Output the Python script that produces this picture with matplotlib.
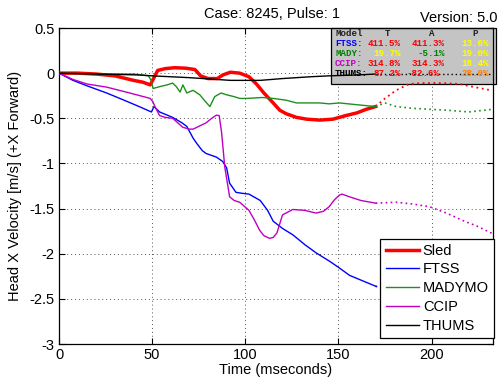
import matplotlib
matplotlib.use("Agg")
import matplotlib.pyplot as plt
from matplotlib.patches import Rectangle

# ---------------- data ----------------
sled_t = [0, 10, 20, 25, 30, 34, 40, 45, 49, 51, 53, 57, 62, 68, 73, 76, 80, 85, 88, 92, 97,
          102, 106, 110, 115, 118.5, 122, 127.5, 133, 140, 147, 154, 160, 165, 170]
sled_v = [0, 0, -0.01, -0.02, -0.03, -0.05, -0.08, -0.1, -0.13, -0.05, 0.03, 0.05, 0.06, 0.055,
          0.04, -0.03, -0.06, -0.06, -0.02, 0.01, 0.0, -0.04, -0.12, -0.22, -0.33, -0.41, -0.45,
          -0.49, -0.51, -0.52, -0.51, -0.47, -0.44, -0.40, -0.37]
sled_ext_t = [170, 175, 181, 188, 195, 205, 215, 222, 232]
sled_ext_v = [-0.37, -0.28, -0.19, -0.12, -0.11, -0.11, -0.12, -0.15, -0.19]

ftss_t = [0, 7.5, 15, 25.6, 35, 43, 49.6, 51, 54, 61, 66, 68.6, 72, 74, 77, 79, 84.5, 88, 90,
          91.6, 93, 95, 98, 102, 108, 112, 115, 120, 125.5, 132, 138, 145, 150, 156, 163, 170]
ftss_v = [0, -0.08, -0.14, -0.22, -0.3, -0.37, -0.43, -0.37, -0.43, -0.49, -0.55, -0.59, -0.72,
          -0.78, -0.86, -0.89, -0.93, -0.98, -1.05, -1.22, -1.26, -1.32, -1.33, -1.34, -1.41,
          -1.52, -1.64, -1.72, -1.79, -1.9, -1.99, -2.08, -2.15, -2.24, -2.3, -2.36]
ftss_ext_t = [170, 190, 210, 233]
ftss_ext_v = [-2.36, -2.48, -2.6, -2.72]

mady_t = [0, 20, 40, 48, 49.5, 50.5, 54, 58, 61, 63, 65, 66.5, 68.6, 72, 75.6, 78, 81, 83.6, 87,
          90, 94, 97, 101, 109, 115, 122, 127.5, 133, 140, 145, 150.6, 160, 170]
mady_v = [0, -0.01, -0.01, -0.03, -0.08, -0.17, -0.15, -0.13, -0.11, -0.15, -0.21, -0.13, -0.22,
          -0.19, -0.24, -0.3, -0.37, -0.26, -0.22, -0.24, -0.26, -0.28, -0.28, -0.27, -0.28,
          -0.3, -0.33, -0.33, -0.33, -0.34, -0.33, -0.35, -0.37]
mady_ext_t = [170, 175, 181, 190, 199, 208, 220, 233]
mady_ext_v = [-0.37, -0.33, -0.37, -0.39, -0.40, -0.41, -0.43, -0.40]

ccip_t = [0, 7.5, 15, 25.6, 38, 49, 50.5, 51.5, 54, 57, 61, 66.5, 70, 72, 76, 79, 82, 84.5, 86,
          87.3, 89, 91.6, 94, 97, 102, 105, 107.7, 110, 113, 115, 117, 120, 125.5, 132, 138, 142,
          145, 148, 150.6, 152, 156, 162, 170]
ccip_v = [0, -0.07, -0.12, -0.155, -0.22, -0.28, -0.32, -0.37, -0.47, -0.49, -0.5, -0.6, -0.62,
          -0.62, -0.58, -0.55, -0.5, -0.465, -0.47, -0.66, -1.04, -1.37, -1.41, -1.43, -1.52,
          -1.63, -1.74, -1.8, -1.83, -1.82, -1.77, -1.57, -1.51, -1.52, -1.55, -1.53, -1.48,
          -1.4, -1.35, -1.34, -1.37, -1.41, -1.44]
ccip_ext_t = [170, 181, 190, 199, 208, 216.5, 225, 233]
ccip_ext_v = [-1.44, -1.43, -1.45, -1.48, -1.55, -1.63, -1.7, -1.78]

thums_t = [0, 20, 43, 50, 70, 92, 108, 120, 135, 145, 160, 170]
thums_v = [0, -0.01, -0.02, -0.03, -0.05, -0.08, -0.08, -0.06, -0.04, -0.03, -0.02, -0.01]
thums_ext_t = [170, 233]
thums_ext_v = [-0.01, -0.01]

series_names = ["Sled", "FTSS", "MADYMO", "CCIP", "THUMS"]

x_ticks = [0, 50, 100, 150, 200]
y_ticks = [0.5, 0, -0.5, -1, -1.5, -2, -2.5, -3]
y_tick_labels = ["0.5", "0", "-0.5", "-1", "-1.5", "-2", "-2.5", "-3"]

table_header = ["Model", "T", "A", "P"]
table_models = ["FTSS:", "MADY:", "CCIP:", "THUMS:"]
table_T = ["411.5%", "19.7%", "314.8%", "87.2%"]
table_A = ["411.3%", "-5.1%", "314.3%", "-82.6%"]
table_P = ["13.6%", "19.0%", "18.4%", "28.0%"]

title_text = "Case: 8245, Pulse: 1"
version_text = "Version: 5.0"
x_label = "Time (mseconds)"
y_label = "Head X Velocity [m/s] (+X Forward)"

# ---------------- style ----------------
plt.rcParams['font.family'] = ['Liberation Sans', 'DejaVu Sans']
plt.rcParams['axes.unicode_minus'] = False
FS = 10.5
W, H = 498, 381

RED = '#ff0000'
BLUE = '#0000ff'
GREEN = '#1f8f1f'
MAG = '#c000c0'
BLACK = '#000000'

fig = plt.figure(figsize=(W / 100, H / 100), dpi=100)
ax = fig.add_axes([59 / W, 1 - 344 / H, 434 / W, 316 / H])

ax.set_axisbelow(True)
ax.grid(True, linestyle=(0, (1, 3)), color='#555555', linewidth=0.7)

lw = 1.0
ax.plot(sled_t, sled_v, color=RED, lw=2.5, label=series_names[0], zorder=3)
ax.plot(ftss_t, ftss_v, color=BLUE, lw=lw, label=series_names[1], zorder=3)
ax.plot(mady_t, mady_v, color=GREEN, lw=lw, label=series_names[2], zorder=3)
ax.plot(ccip_t, ccip_v, color=MAG, lw=lw, label=series_names[3], zorder=3)
ax.plot(thums_t, thums_v, color=BLACK, lw=lw, label=series_names[4], zorder=3)

dot = (0, (1, 2))
ax.plot(sled_ext_t, sled_ext_v, color=RED, lw=1.3, ls=dot, zorder=3)
ax.plot(ftss_ext_t, ftss_ext_v, color=BLUE, lw=1.2, ls=dot, zorder=3)
ax.plot(mady_ext_t, mady_ext_v, color=GREEN, lw=1.2, ls=dot, zorder=3)
ax.plot(ccip_ext_t, ccip_ext_v, color=MAG, lw=1.2, ls=dot, zorder=3)
ax.plot(thums_ext_t, thums_ext_v, color=BLACK, lw=1.0, ls=dot, zorder=3)

ax.set_xlim(0, 233)
ax.set_ylim(-3, 0.5)
ax.set_xticks(x_ticks)
ax.set_yticks(y_ticks)
ax.set_yticklabels(y_tick_labels)
ax.tick_params(direction='in', length=4, width=0.8, labelsize=FS, top=True, right=True, pad=3)
for s in ax.spines.values():
    s.set_linewidth(0.9)

ax.set_xlabel(x_label, fontsize=FS, va='center')
ax.xaxis.set_label_coords(0.5, (344 - 370) / 316)
ax.set_ylabel(y_label, fontsize=FS, va='center')
ax.yaxis.set_label_coords((15 - 59) / 434, 0.5)

fig.text(272 / W, 1 - 14 / H, title_text, ha='center', va='center', fontsize=FS)
fig.text(497 / W, 1 - 18.5 / H, version_text, ha='right', va='center', fontsize=FS)

leg = ax.legend(loc='lower right', bbox_to_anchor=(1.002, 0.019), borderaxespad=0,
                fontsize=FS, fancybox=False, framealpha=1, edgecolor='black',
                handlelength=2.3, handletextpad=0.25, labelspacing=0.33, borderpad=0.35)
leg.get_frame().set_linewidth(0.9)
leg.set_zorder(10)

# ---------------- statistics table ----------------
ax.add_patch(Rectangle((331 / W, 1 - 84 / H), (496 - 331) / W, (84 - 28) / H,
                       transform=fig.transFigure, clip_on=False, zorder=2,
                       facecolor='#c4c4c4', edgecolor='black', linewidth=0.9))

mono = dict(family=['Liberation Mono', 'DejaVu Sans Mono'], weight='bold', fontsize=6.6)
CW = 5.5
X0 = 335


def put(txt, idx, ypix, color):
    ax.text((X0 + CW * idx) / W, 1 - ypix / H, txt, transform=fig.transFigure,
            ha='left', va='center', color=color, clip_on=False, zorder=4, **mono)


for txt, idx in zip(table_header, [0, 9, 17, 25]):
    put(txt, idx, 33, '#202020')

label_colors = [BLUE, '#008000', MAG, BLACK]
T_colors = [RED, '#ffff00', RED, RED]
A_colors = [RED, '#008000', RED, RED]
P_colors = ['#ffff00', '#ffff00', '#ffff00', '#ff8000']
rows_y = [43, 53, 63, 73]
for i in range(4):
    y = rows_y[i]
    put(table_models[i], 0, y, label_colors[i])
    put(table_T[i], 12 - len(table_T[i]), y, T_colors[i])
    a_end = 20 if i < 3 else 19
    put(table_A[i], a_end - len(table_A[i]), y, A_colors[i])
    put(table_P[i], 23, y, P_colors[i])

fig.savefig('out.png', dpi=100)
